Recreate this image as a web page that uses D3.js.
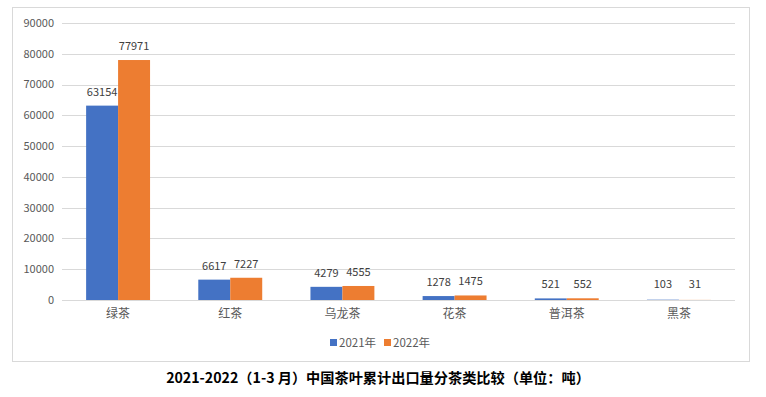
<!DOCTYPE html>
<html>
<head>
<meta charset="utf-8">
<script src="https://cdn.jsdelivr.net/npm/d3@7"></script>
<style>
body { margin: 0; background: #fff; }
text { font-family: "Noto Sans CJK SC", "Liberation Sans", sans-serif; }
</style>
</head>
<body>
<script>
const categories = ['绿茶', '红茶', '乌龙茶', '花茶', '普洱茶', '黑茶'];
const seriesNames = ['2021年', '2022年'];
const values2021 = [63154, 6617, 4279, 1278, 521, 103];
const values2022 = [77971, 7227, 4555, 1475, 552, 31];
const yTicks = [0, 10000, 20000, 30000, 40000, 50000, 60000, 70000, 80000, 90000];
const colors = ['#4472c4', '#ed7d31'];
const titleText = '2021-2022（1-3 月）中国茶叶累计出口量分茶类比较（单位：吨）';

const svgWidth = 766, svgHeight = 397;
const margin = {top: 23, right: 31, bottom: 97, left: 62};
const width = svgWidth - margin.left - margin.right;
const height = svgHeight - margin.top - margin.bottom;

const svg = d3.select('body').append('svg')
	.attr('width', svgWidth)
	.attr('height', svgHeight);

// outer frame
svg.append('rect')
	.attr('x', 12.5).attr('y', 7.5)
	.attr('width', 737).attr('height', 354)
	.attr('fill', 'none')
	.attr('stroke', '#d9d9d9');

const g = svg.append('g')
	.attr('transform', 'translate(' + margin.left + ',' + margin.top + ')');

const x0 = d3.scaleBand()
	.domain(categories)
	.range([0, width])
	.paddingInner(0.43)
	.paddingOuter(0.215);

const x1 = d3.scaleBand()
	.domain(seriesNames)
	.range([0, x0.bandwidth()]);

const y = d3.scaleLinear()
	.domain([0, 90000])
	.range([height, 0]);

// grid lines
g.selectAll('.grid')
	.data(yTicks)
	.enter().append('line')
	.attr('x1', 0).attr('x2', width)
	.attr('y1', d => Math.round(y(d)) + 0.5)
	.attr('y2', d => Math.round(y(d)) + 0.5)
	.attr('stroke', '#d9d9d9');

// y tick labels
g.selectAll('.ytick')
	.data(yTicks)
	.enter().append('text')
	.attr('x', -8)
	.attr('y', d => y(d))
	.attr('dy', '0.35em')
	.attr('text-anchor', 'end')
	.attr('fill', '#595959')
	.style('font-size', '11px')
	.text(d => d);

const rows = categories.map((c, i) => ({cat: c, vals: [values2021[i], values2022[i]]}));

const groups = g.selectAll('.cat')
	.data(rows)
	.enter().append('g')
	.attr('transform', d => 'translate(' + x0(d.cat) + ',0)');

groups.selectAll('rect')
	.data(d => d.vals.map((v, i) => ({name: seriesNames[i], v: v, i: i})))
	.enter().append('rect')
	.attr('x', d => x1(d.name))
	.attr('width', x1.bandwidth())
	.attr('y', d => y(d.v))
	.attr('height', d => Math.max(1, height - y(d.v)))
	.attr('fill', d => colors[d.i]);

groups.selectAll('.lbl')
	.data(d => d.vals.map((v, i) => ({name: seriesNames[i], v: v})))
	.enter().append('text')
	.attr('x', d => x1(d.name) + x1.bandwidth() / 2)
	.attr('y', d => Math.min(y(d.v), height - 2) - 10)
	.attr('text-anchor', 'middle')
	.attr('fill', '#404040')
	.style('font-size', '11px')
	.text(d => d.v);

// x axis line
g.append('line')
	.attr('x1', 0).attr('x2', width)
	.attr('y1', height + 0.5).attr('y2', height + 0.5)
	.attr('stroke', '#d9d9d9');

// category labels
g.selectAll('.xlbl')
	.data(categories)
	.enter().append('text')
	.attr('x', d => x0(d) + x0.bandwidth() / 2)
	.attr('y', height + 18)
	.attr('text-anchor', 'middle')
	.attr('fill', '#595959')
	.style('font-size', '12px')
	.text(d => d);

// legend
const legend = svg.append('g')
	.attr('transform', 'translate(330,343)');
const legItems = legend.selectAll('g')
	.data(seriesNames)
	.enter().append('g')
	.attr('transform', (d, i) => 'translate(' + (i * 54) + ',0)');
legItems.append('rect')
	.attr('x', 0).attr('y', -4)
	.attr('width', 7).attr('height', 7)
	.attr('fill', (d, i) => colors[i]);
legItems.append('text')
	.attr('x', 9).attr('y', 0)
	.attr('dy', '0.35em')
	.attr('fill', '#595959')
	.style('font-size', '11.5px')
	.text(d => d);

// title
svg.append('text')
	.attr('x', 378)
	.attr('y', 378)
	.attr('dy', '0.35em')
	.attr('text-anchor', 'middle')
	.attr('fill', '#000')
	.style('font-size', '14.2px')
	.style('font-weight', 'bold')
	.text(titleText);
</script>
</body>
</html>
